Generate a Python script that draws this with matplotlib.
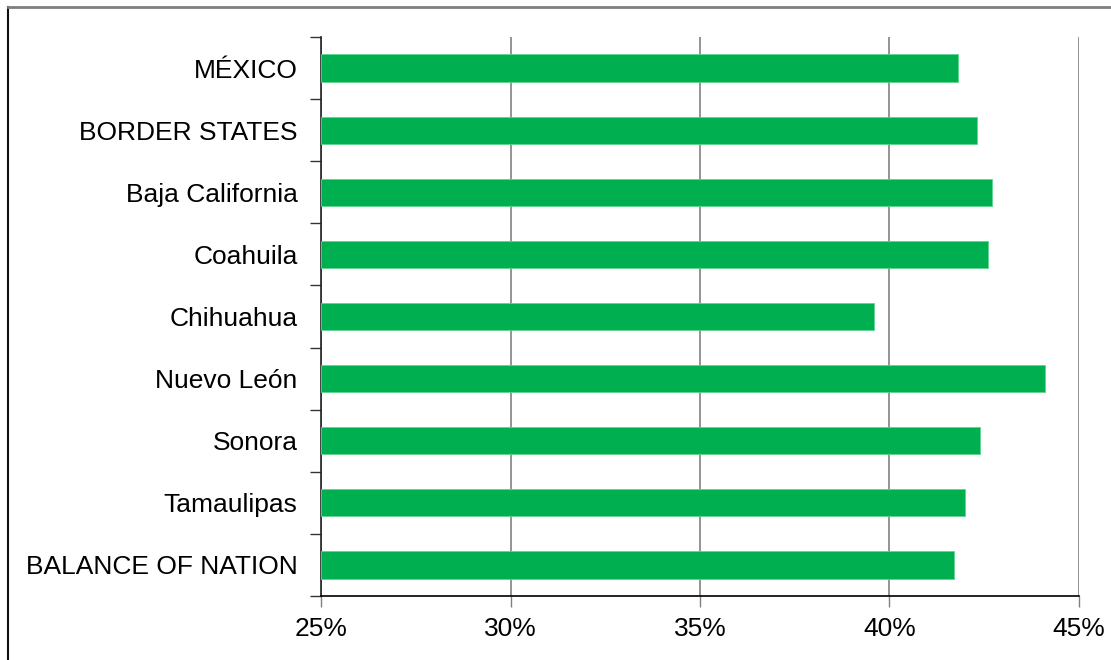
import matplotlib
matplotlib.use("Agg")
import matplotlib.pyplot as plt
from matplotlib.lines import Line2D
from matplotlib.ticker import FixedLocator, FuncFormatter, NullFormatter

plt.rcParams['font.family'] = ['Liberation Sans', 'DejaVu Sans']

categories = ["MÉXICO", "BORDER STATES", "Baja California", "Coahuila",
              "Chihuahua", "Nuevo León", "Sonora", "Tamaulipas",
              "BALANCE OF NATION"]
values = [41.8, 42.3, 42.7, 42.6, 39.6, 44.1, 42.4, 42.0, 41.7]
x_ticks = [25, 30, 35, 40, 45]

W, H = 1111, 660
fig = plt.figure(figsize=(W / 100, H / 100), dpi=100)
ax = fig.add_axes([321.3 / W, 1 - 596 / H, (1078.8 - 321.3) / W, (596 - 37) / H])

n = len(categories)
ypos = list(range(n))[::-1]
ax.barh(ypos, [v - 25 for v in values], left=25, height=0.44,
        color="#00B050", edgecolor="#5fd48f", linewidth=0.6, zorder=3)

ax.set_xlim(25, 45)
ax.set_ylim(-0.5, n - 0.5)

ax.set_xticks(x_ticks)
ax.xaxis.set_major_formatter(FuncFormatter(lambda v, p: f"{v:.0f}%"))
ax.tick_params(axis="x", direction="out", length=8, width=1, color="#808080",
               labelsize=19, pad=7)
ax.grid(axis="x", color="#777777", linewidth=1.1, zorder=0)

ax.yaxis.set_major_locator(FixedLocator(ypos))
ax.set_yticklabels(categories)
ax.yaxis.set_minor_locator(FixedLocator([i - 0.5 for i in range(n + 1)]))
ax.yaxis.set_minor_formatter(NullFormatter())
ax.tick_params(axis="y", which="major", length=0, labelsize=19, pad=17)
ax.tick_params(axis="y", which="minor", direction="out", length=8, width=1,
               color="#333333")

for side in ("top", "right"):
    ax.spines[side].set_visible(False)
ax.spines["left"].set_color("#222222")
ax.spines["bottom"].set_color("#000000")
ax.spines["left"].set_linewidth(1.2)
ax.spines["bottom"].set_linewidth(1.2)

# chart-area border along the top and left edges
fig.add_artist(Line2D([7.5 / W, 7.5 / W], [0, 1 - 7 / H], transform=fig.transFigure,
                      color="#111111", linewidth=1.5))
fig.add_artist(Line2D([7.5 / W, 1], [1 - 7 / H, 1 - 7 / H], transform=fig.transFigure,
                      color="#7f7f7f", linewidth=2))

fig.savefig("out.png", dpi=100, facecolor="white")
